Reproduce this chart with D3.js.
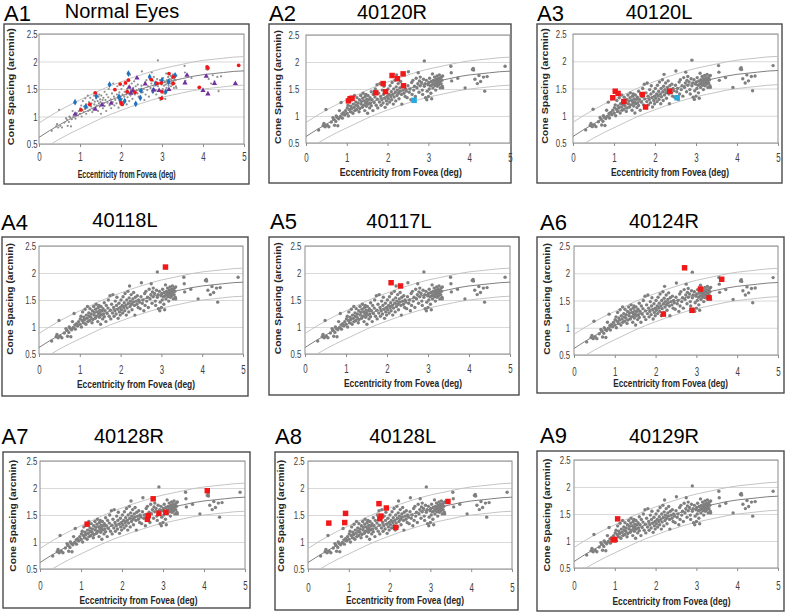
<!DOCTYPE html>
<html><head><meta charset="utf-8">
<script src="https://cdn.jsdelivr.net/npm/d3@7"></script>
<style>body{margin:0;background:#fff}svg{display:block}</style>
</head><body>
<svg id="c" width="785" height="612"></svg>
<script>
// ---------- DATA ----------
const panelIds = ["A1","A2","A3","A4","A5","A6","A7","A8","A9"];
const panelNames = ["Normal Eyes","40120R","40120L","40118L","40117L","40124R","40128R","40128L","40129R"];
const xTicks = [0,1,2,3,4,5];
const yTicks = [0.5,1,1.5,2,2.5];
const xTitleText = "Eccentricity from Fovea (deg)";
const yTitleText = "Cone Spacing (arcmin)";

// normal-eye cone spacing (all normal data, grey)
const normalEyes = [
[0.31,0.74],[0.42,0.82],[0.44,0.86],[0.47,0.80],[0.49,1.12],[0.52,0.83],[0.56,0.80],[0.66,0.97],[0.68,0.94],[0.70,0.83],
[0.73,0.90],[0.76,0.98],[0.78,0.82],[0.80,0.95],[0.82,1.10],[0.84,0.99],[0.86,1.25],[0.88,1.04],[0.89,0.96],[0.74,1.00],[0.62,0.89],
[0.92,1.06],[0.95,1.02],[0.97,1.10],[1.00,1.05],[1.01,1.15],[1.03,1.20],[1.04,1.00],[1.06,1.12],[1.07,1.28],[1.09,1.08],
[1.10,1.18],[1.12,1.14],[1.13,1.33],[1.15,1.05],[1.16,1.22],[1.18,1.16],[1.19,1.38],[1.20,1.10],[1.22,1.26],[1.23,1.20],[1.24,1.12],[1.25,1.34],
[1.27,1.18],[1.28,1.24],[1.30,1.08],[1.31,1.30],[1.32,1.14],[1.34,1.38],[1.35,1.22],[1.36,1.27],[1.38,1.16],[1.39,1.33],
[1.40,1.42],[1.41,1.20],[1.43,1.28],[1.44,1.10],[1.45,1.36],[1.46,1.24],[1.47,1.40],[1.48,1.18],[1.49,1.31],[1.50,1.26],
[1.51,1.05],[1.52,1.38],[1.53,1.22],[1.55,1.30],[1.56,1.15],[1.57,1.34],[1.58,1.24],[1.60,1.45],[1.60,1.19],
[1.62,1.30],[1.64,1.10],[1.65,1.40],[1.67,1.25],[1.69,1.35],[1.70,1.50],[1.72,1.20],[1.74,1.58],[1.75,1.31],[1.76,1.15],
[1.78,1.42],[1.80,1.26],[1.81,1.60],[1.83,1.36],[1.84,1.20],[1.86,1.30],[1.87,1.48],[1.89,1.24],[1.90,1.40],[1.91,1.55],
[1.93,1.33],[1.94,1.16],[1.96,1.44],[1.97,1.28],[1.99,1.36],[1.99,1.22],
[2.01,1.50],[2.02,1.32],[2.04,1.40],[2.05,1.26],[2.06,1.56],[2.08,1.36],[2.09,1.45],[2.10,1.30],[2.11,1.62],[2.13,1.40],
[2.14,1.22],[2.15,1.50],[2.16,1.35],[2.18,1.66],[2.19,1.44],[2.20,1.28],[2.21,1.54],[2.22,1.76],[2.23,1.38],[2.24,1.48],
[2.26,1.60],[2.27,1.42],[2.28,1.32],[2.30,1.52],[2.31,1.46],[2.32,1.64],[2.34,1.40],[2.35,1.22],[2.36,1.55],[2.38,1.48],
[2.40,1.42],[2.41,1.58],[2.43,1.36],[2.44,1.50],
[2.46,1.46],[2.48,1.34],[2.50,1.56],[2.51,1.82],[2.53,1.44],[2.55,1.50],[2.57,1.30],[2.59,1.62],[2.60,1.40],[2.62,1.66],
[2.64,1.48],[2.66,1.55],[2.68,1.36],[2.70,1.70],[2.72,1.52],[2.74,1.60],[2.75,1.80],[2.77,1.44],[2.78,1.65],[2.80,1.56],[2.80,1.72],
[2.83,1.62],[2.85,1.48],[2.86,1.40],[2.88,1.68],[2.90,2.02],[2.90,1.55],[2.92,1.60],[2.93,1.34],[2.95,1.66],[2.96,1.30],
[2.97,1.46],[2.99,1.58],[3.00,1.36],
[3.01,1.62],[3.02,1.50],[3.03,1.70],[3.05,1.56],[3.06,1.42],[3.07,1.64],[3.08,1.32],[3.09,1.58],[3.10,1.78],[3.11,1.52],
[3.12,1.66],[3.13,1.60],[3.15,1.72],[3.16,1.56],[3.17,1.64],[3.18,1.48],[3.19,1.68],[3.20,1.60],[3.21,1.74],[3.22,1.55],
[3.23,1.66],[3.24,1.62],[3.25,1.70],[3.26,1.58],[3.27,1.76],[3.28,1.64],[3.29,1.52],[3.30,1.68],[3.31,1.60],[3.32,1.72],
[3.33,1.66],[3.34,1.55],[3.35,1.74],[3.35,1.52],
[3.55,1.92],[3.56,1.80],[3.57,1.65],[3.72,1.70],[3.90,1.52],[4.08,1.86],[4.10,1.88],[4.11,1.85],[4.20,1.60],[4.24,1.75],
[4.28,1.64],[4.35,1.72],[4.38,1.46],[4.44,1.73],[4.88,1.92],[4.14,1.68]
];

// A1 coloured normal subjects
const a1Red = [[4.10,1.90],[4.12,1.88],[4.87,1.93],[3.91,1.53],[3.17,1.78],[3.27,1.72],[2.88,1.60],[2.98,1.61],[3.00,1.45],
[2.99,1.33],[2.74,1.67],[2.11,1.61],[2.18,1.66],[1.98,1.59],[1.85,1.49],[2.15,1.45],[2.34,1.44],[2.00,1.25],[2.03,1.22],
[1.37,1.43],[1.24,1.22],[1.02,1.12],[3.27,1.60]];
const a1Blue = [[2.18,1.78],[1.72,1.58],[0.88,1.26],[1.14,1.18],[1.40,1.37],[1.95,1.36],[1.98,1.30],[2.09,1.28],[2.36,1.23],
[2.49,1.47],[2.47,1.34],[2.70,1.72],[2.85,1.60],[3.00,1.66],[3.16,1.63],[3.32,1.75],[3.09,1.45],[2.78,1.47]];
const a1Purple = [[2.39,1.71],[2.20,1.54],[2.24,1.43],[2.29,1.48],[2.59,1.60],[2.80,1.49],[2.93,1.48],[3.17,1.50],[3.56,1.62],
[3.61,1.76],[4.08,1.74],[4.28,1.61],[4.00,1.48],[4.12,1.42],[4.79,1.61],[1.54,1.22],[1.37,1.14],[0.88,1.05],[1.76,1.25]];

// patient eyes (red) and blue marks
const a2Red = [[1.04,1.28],[1.08,1.32],[1.13,1.33],[1.71,1.43],[1.89,1.60],[1.95,1.45],[2.11,1.75],[2.24,1.69],[2.38,1.78],[2.39,1.56]];
const a2Blue = [[2.65,1.29]];
const a3Red = [[0.97,1.33],[1.03,1.45],[1.10,1.41],[1.24,1.26],[1.69,1.39],[1.77,1.16],[2.36,1.45]];
const a3Blue = [[2.54,1.33]];
const a4Red = [[3.10,2.11]];
const a5Red = [[2.10,1.82],[2.33,1.76]];
const a6Red = [[2.71,2.10],[2.89,1.32],[3.10,1.71],[3.31,1.55],[3.62,1.89],[2.19,1.25]];
const a7Red = [[1.15,1.33],[2.76,1.80],[2.64,1.49],[2.62,1.42],[2.90,1.53],[3.07,1.55],[4.08,1.95]];
const a8Red = [[0.51,1.35],[0.92,1.53],[0.90,1.36],[1.74,1.71],[1.92,1.63],[1.79,1.48],[1.76,1.43],[2.15,1.27],[3.43,1.75]];
const a9Red = [[1.07,1.41],[0.96,1.02],[1.00,1.03]];

// fitted normal curve and bounds
const fitX =     [0,0.25,0.5,0.75,1,1.25,1.5,1.75,2,2.25,2.5,2.75,3,3.25,3.5,3.75,4,4.25,4.5,4.75,5];
const fitMid =   [0.62,0.74,0.85,0.95,1.04,1.13,1.22,1.30,1.37,1.44,1.50,1.56,1.61,1.65,1.69,1.73,1.76,1.78,1.80,1.82,1.83];
const fitUpper = [0.88,1.00,1.11,1.21,1.30,1.39,1.48,1.56,1.63,1.70,1.76,1.82,1.87,1.91,1.95,1.99,2.02,2.04,2.06,2.08,2.09];
const fitLower = [0.36,0.48,0.59,0.69,0.78,0.87,0.96,1.04,1.11,1.18,1.24,1.30,1.35,1.39,1.43,1.47,1.50,1.52,1.54,1.56,1.57];

// ---------- LAYOUT (pixels) ----------
const layout = [
 {box:[4,24,249,184],  plot:[39,244,34,144],  id:[4,21],     name:[122,17.5], xTickY:160.7, yTickR:37.7,  xTitle:[126.7,178,98],   yTitle:[11.5,86.7,117]},
 {box:[269,24,511,183],plot:[306,510,35,143], id:[269,20.5], name:[392,18.8], xTickY:161.7, yTickR:299.3, xTitle:[400.8,176,122],  yTitle:[278.5,87,114]},
 {box:[537,24,782,183],plot:[573,778,34,143], id:[537,20.5], name:[659,18.8], xTickY:161.7, yTickR:566.7, xTitle:[670,176,118],    yTitle:[545,86,115.7]},
 {box:[2,237,248,396], plot:[39,243,246,354], id:[1,230],    name:[125,226.7],xTickY:374.3, yTickR:36,    xTitle:[136,388,118],    yTitle:[10.2,299,111.7]},
 {box:[269,237,519,395],plot:[305,510,246,354],id:[270,228.5],name:[399,228.3],xTickY:373.3, yTickR:301.3, xTitle:[403,386.7,118],  yTitle:[277.7,298.3,112]},
 {box:[537,237,784,393],plot:[574,778,246,355],id:[540,230], name:[664,227.7],xTickY:375.7, yTickR:570,   xTitle:[670.7,386.7,114.7],yTitle:[546.7,299,111.7]},
 {box:[3,452,250,608], plot:[40,245,461,569], id:[1.5,444.3],name:[129,442.7],xTickY:590,   yTickR:37.3,  xTitle:[138.5,604,118],  yTitle:[13.2,515.8,111.7]},
 {box:[275,452,518,610],plot:[308,512,461,569],id:[275,444.3],name:[402.7,443.3],xTickY:591.7,yTickR:304.7, xTitle:[405,604.3,118],  yTitle:[281.2,515.8,111.7]},
 {box:[537,451,784,611],plot:[574,778,460,568],id:[540,443.3],name:[664,442.7],xTickY:589.5, yTickR:570.7, xTitle:[671.5,605,118],  yTitle:[546.7,515,113]}
];

const C = {gray:"#7f7f7f", red:"#f01818", blue:"#1f72c0", purple:"#7030a0", cyan:"#27a9e1"};
const FONT = "'Liberation Sans', Arial, sans-serif";

const patientMarks = [null,
 [{pts:a2Red,color:C.red},{pts:a2Blue,color:C.cyan}],
 [{pts:a3Red,color:C.red},{pts:a3Blue,color:C.cyan}],
 [{pts:a4Red,color:C.red}],
 [{pts:a5Red,color:C.red}],
 [{pts:a6Red,color:C.red}],
 [{pts:a7Red,color:C.red}],
 [{pts:a8Red,color:C.red}],
 [{pts:a9Red,color:C.red}]
];

const svg = d3.select("#c");
svg.append("rect").attr("width",785).attr("height",612).attr("fill","#fff");

panelIds.forEach((pid, i) => {
  const Lt = layout[i];
  const [L,R,T,B] = Lt.plot;
  const g = svg.append("g").attr("class","panel");
  const x = d3.scaleLinear().domain([0,5]).range([L,R]);
  const y = d3.scaleLinear().domain([0.5,2.5]).range([B,T]);

  // outer chart box
  g.append("rect").attr("x",Lt.box[0]).attr("y",Lt.box[1])
    .attr("width",Lt.box[2]-Lt.box[0]).attr("height",Lt.box[3]-Lt.box[1])
    .attr("fill","#fff").attr("stroke","#4a4a4a").attr("stroke-width",1.4);

  // panel label and title
  g.append("text").attr("x",Lt.id[0]).attr("y",Lt.id[1]).text(pid)
    .attr("font-family",FONT).attr("font-size",22).attr("fill","#000");
  g.append("text").attr("x",Lt.name[0]).attr("y",Lt.name[1]).text(panelNames[i])
    .attr("text-anchor","middle").attr("font-family",FONT).attr("font-size",20).attr("fill","#000");

  // grid + y tick labels
  const ya = g.append("g").attr("transform",`translate(${L},0)`)
    .call(d3.axisLeft(y).tickValues(yTicks).tickSize(-(R-L)).tickFormat(d3.format("")));
  ya.select(".domain").remove();
  ya.selectAll(".tick line").attr("stroke","#d9d9d9").attr("stroke-width",1);
  ya.selectAll(".tick text").attr("x",0).attr("dy","0.36em")
    .attr("transform",`translate(${Lt.yTickR-L},0) scale(0.78,1)`)
    .attr("font-family",FONT).attr("font-size",10).attr("fill","#404040");

  // x axis
  const xa = g.append("g").attr("transform",`translate(0,${B})`)
    .call(d3.axisBottom(x).tickValues(xTicks).tickSize(3).tickFormat(d3.format("d")));
  xa.select(".domain").remove();
  xa.selectAll(".tick line").attr("stroke","#8c8c8c");
  xa.selectAll(".tick text").attr("y",0).attr("dy",0)
    .attr("transform",`translate(0,${Lt.xTickY-B}) scale(0.66,1)`)
    .attr("font-family",FONT).attr("font-size",12).attr("fill","#404040");

  // plot area border
  g.append("rect").attr("x",L).attr("y",T).attr("width",R-L).attr("height",B-T)
    .attr("fill","none").attr("stroke","#8c8c8c").attr("stroke-width",1);

  // clip
  const cid = "clip"+i;
  g.append("clipPath").attr("id",cid).append("rect")
    .attr("x",L).attr("y",T).attr("width",R-L).attr("height",B-T);
  const pg = g.append("g").attr("clip-path",`url(#${cid})`);

  // fit curves
  const line = d3.line().x(d=>x(d[0])).y(d=>y(d[1])).curve(d3.curveMonotoneX);
  [[fitUpper,"#bdbdbd",0.9],[fitLower,"#bdbdbd",0.9],[fitMid,"#7f7f7f",1]].forEach(([arr,col,w])=>{
    pg.append("path").attr("d", line(fitX.map((v,k)=>[v,arr[k]])))
      .attr("fill","none").attr("stroke",col).attr("stroke-width",w);
  });

  // normal data
  const isA1 = i===0;
  pg.append("g").selectAll("circle").data(normalEyes).join("circle")
    .attr("cx",d=>x(d[0])).attr("cy",d=>y(d[1]))
    .attr("r", isA1 ? 1.1 : 1.7)
    .attr("fill", isA1 ? "#8f8f8f" : C.gray);

  if (isA1) {
    pg.append("g").selectAll("path").data(a1Blue).join("path")
      .attr("transform",d=>`translate(${x(d[0])},${y(d[1])})`)
      .attr("d", d3.symbol(d3.symbolDiamond, 13)()).attr("fill",C.blue);
    pg.append("g").selectAll("path").data(a1Purple).join("path")
      .attr("transform",d=>`translate(${x(d[0])},${y(d[1])+0.5})`)
      .attr("d", d3.symbol(d3.symbolTriangle, 12)()).attr("fill",C.purple);
    pg.append("g").selectAll("circle").data(a1Red).join("circle")
      .attr("cx",d=>x(d[0])).attr("cy",d=>y(d[1])).attr("r",1.9).attr("fill",C.red);
  } else {
    patientMarks[i].forEach(set => {
      pg.append("g").selectAll("path").data(set.pts).join("path")
        .attr("transform",d=>`translate(${x(d[0])},${y(d[1])})`)
        .attr("d", d3.symbol(d3.symbolSquare, 30)()).attr("fill",set.color);
    });
  }

  // axis titles
  g.append("text").attr("x",Lt.xTitle[0]).attr("y",Lt.xTitle[1]).text(xTitleText)
    .attr("text-anchor","middle").attr("font-family",FONT).attr("font-weight","bold")
    .attr("font-size",11.5).attr("fill","#262626")
    .attr("textLength",Lt.xTitle[2]).attr("lengthAdjust","spacingAndGlyphs");
  g.append("text").attr("transform",`translate(${Lt.yTitle[0]},${Lt.yTitle[1]}) scale(0.8,1) rotate(-90)`)
    .attr("x",0).attr("y",0).attr("dy","0.33em").text(yTitleText)
    .attr("text-anchor","middle").attr("font-family",FONT).attr("font-weight","bold")
    .attr("font-size",11).attr("fill","#262626")
    .attr("textLength",Lt.yTitle[2]).attr("lengthAdjust","spacingAndGlyphs");
});
</script>
</body></html>
